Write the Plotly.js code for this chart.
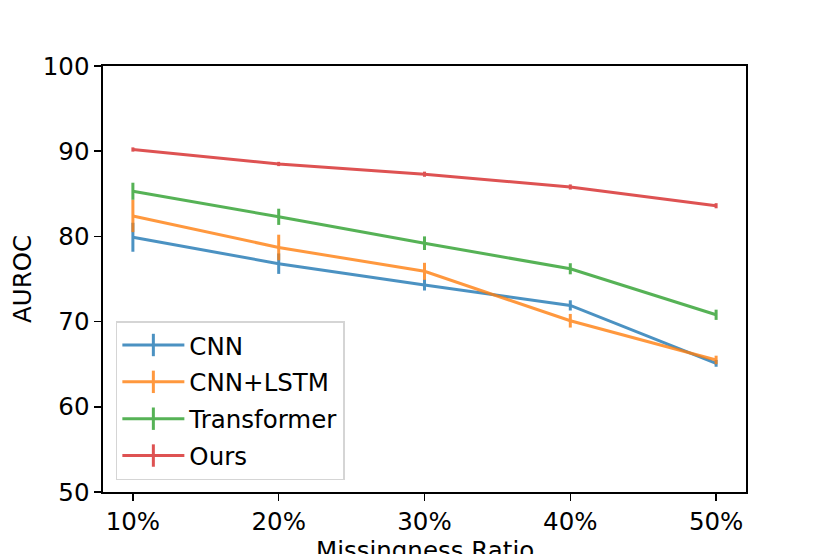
<!DOCTYPE html>
<html>
<head>
<meta charset="utf-8">
<script src="https://cdn.plot.ly/plotly-3.0.1.min.js"></script>
<style>
  html, body { margin: 0; padding: 0; background: #fff; }
  #chart { width: 830px; height: 554px; }
</style>
</head>
<body>
<div id="chart"></div>
<script>
// Data
var ratios = ['10%', '20%', '30%', '40%', '50%'];
var model_names = ['CNN', 'CNN+LSTM', 'Transformer', 'Ours'];

var cnn_auroc = [79.9, 76.8, 74.3, 71.9, 65.1];
var cnn_err = [1.7, 1.2, 0.65, 0.6, 0.4];
var cnn_lstm_auroc = [82.4, 78.7, 75.9, 70.1, 65.5];
var cnn_lstm_err = [1.9, 1.5, 1.0, 0.8, 0.5];
var transformer_auroc = [85.3, 82.3, 79.2, 76.2, 70.8];
var transformer_err = [1.0, 0.95, 0.8, 0.65, 0.6];
var ours_auroc = [90.2, 88.5, 87.3, 85.8, 83.6];
var ours_err = [0.25, 0.25, 0.3, 0.3, 0.3];

var y_ticks = [50, 60, 70, 80, 90, 100];
var x_title = 'Missingness Ratio';

// Styles
var colors = ['#1f77b4', '#ff7f0e', '#2ca02c', '#d62728'];
var font_family = 'DejaVu Sans, sans-serif';
var font_size = 24.5;


function make_trace(name, ys, errs, color) {
  return {
    x: ratios,
    y: ys,
    name: name,
    type: 'scatter',
    mode: 'lines',
    opacity: 0.8,
    showlegend: false,
    line: {color: color, width: 3},
    error_y: {
      type: 'data',
      array: errs,
      visible: true,
      color: color,
      thickness: 3,
      width: 0,
    },
  };
}


// legend entries drawn as a line crossed by an error bar
function make_legend_entry(name, color) {
  return {
    x: [null],
    y: [null],
    name: name,
    type: 'scatter',
    mode: 'lines+markers',
    opacity: 0.8,
    legendgroup: name,
    line: {color: color, width: 3},
    marker: {symbol: 'line-ns', size: 22, line: {color: color, width: 3}},
  };
}


var series = [cnn_auroc, cnn_lstm_auroc, transformer_auroc, ours_auroc];
var errors = [cnn_err, cnn_lstm_err, transformer_err, ours_err];

var plot_data = [];
for (let i = 0; i < model_names.length; i++) {
  plot_data.push(make_trace(model_names[i], series[i], errors[i], colors[i]));
}
for (let i = 0; i < model_names.length; i++) {
  plot_data.push(make_legend_entry(model_names[i], colors[i]));
}

var layout = {
  width: 830,
  height: 554,
  margin: {l: 103, r: 84, t: 66, b: 62},
  paper_bgcolor: '#ffffff',
  plot_bgcolor: '#ffffff',
  font: {family: font_family, size: font_size, color: '#000000'},

  xaxis: {
    type: 'category',
    range: [-0.205, 4.205],
    showgrid: false,
    zeroline: false,
    showline: true,
    mirror: true,
    linecolor: '#000000',
    linewidth: 1.6,
    ticks: 'outside',
    ticklen: 7,
    tickwidth: 1.5,
    tickcolor: '#000000',
    tickfont: {size: font_size},
  },
  yaxis: {
    range: [50, 100],
    tickmode: 'array',
    tickvals: y_ticks,
    showgrid: false,
    zeroline: false,
    showline: true,
    mirror: true,
    linecolor: '#000000',
    linewidth: 1.6,
    ticks: 'outside',
    ticklen: 7,
    tickwidth: 1.5,
    tickcolor: '#000000',
    tickfont: {size: font_size},
    title: {text: 'AUROC', font: {size: font_size}, standoff: 4},
  },

  // x title sits below the margin and runs off the page, as in the original
  annotations: [{
    text: x_title,
    xref: 'paper',
    yref: 'paper',
    x: 0.5,
    y: -0.099,
    xanchor: 'center',
    yanchor: 'top',
    showarrow: false,
    font: {size: font_size},
  }],

  legend: {
    x: 0.02,
    y: 0.028,
    xanchor: 'left',
    yanchor: 'bottom',
    bgcolor: 'rgba(255,255,255,0.8)',
    bordercolor: '#d5d5d5',
    borderwidth: 1.5,
    font: {size: font_size},
    itemwidth: 62,
    traceorder: 'grouped',
    tracegroupgap: 2,
  },
};

var config = {displayModeBar: false, staticPlot: true};
Plotly.newPlot('chart', plot_data, layout, config);
</script>
</body>
</html>
